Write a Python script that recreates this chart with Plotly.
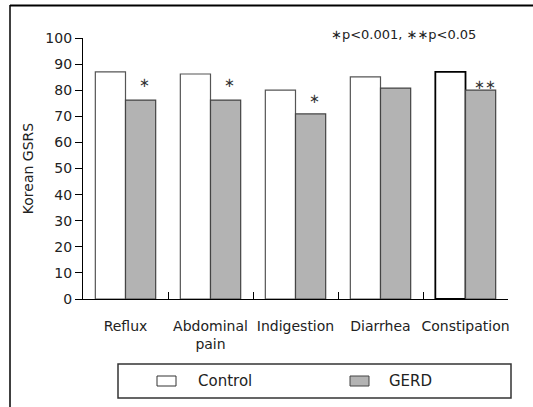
import plotly.graph_objects as go

categories = ["Reflux", "Abdominal<br>pain", "Indigestion", "Diarrhea", "Constipation"]
control = [87, 86.2, 80, 85.1, 87]
gerd = [76.2, 76.2, 70.9, 80.8, 80]
signif = ["∗", "∗", "∗", "", "∗∗"]
yticks = [0, 10, 20, 30, 40, 50, 60, 70, 80, 90, 100]

W, H = 533, 407
L, R, T, B = 83, 508, 38, 299  # plot area in pixels
FONT = "DejaVu Sans"

def px(x):
    return (x - L) / (R - L)

def py(y):
    return (B - y) / (B - T)

fig = go.Figure()
fig.add_trace(go.Bar(
    x=categories, y=control, name="Control",
    marker=dict(color="white", line=dict(color=["#555"] * 4 + ["#000"], width=[1.2] * 4 + [1.8])),
))
fig.add_trace(go.Bar(
    x=categories, y=gerd, name="GERD",
    marker=dict(color="#b3b3b3", line=dict(color="#444", width=1.2)),
))

yshifts = [18, 18, 15, 0, 6]
for c, g, s, ys in zip(categories, gerd, signif, yshifts):
    if s:
        fig.add_annotation(x=c, y=g, text=s, showarrow=False, xshift=19, yshift=ys,
                           yanchor="middle", font=dict(size=13, color="#333", family=FONT))

fig.add_annotation(xref="paper", yref="paper", x=px(403), y=py(34), text="∗p&lt;0.001, ∗∗p&lt;0.05",
                   showarrow=False, xanchor="center", yanchor="middle",
                   font=dict(size=13, color="#222", family=FONT))

# outer frame: left and top edges
fig.add_shape(type="line", xref="paper", yref="paper", x0=px(10), x1=px(10), y0=py(5), y1=py(420),
              line=dict(color="black", width=1.5))
fig.add_shape(type="line", xref="paper", yref="paper", x0=px(10), x1=px(545), y0=py(5.5), y1=py(5.5),
              line=dict(color="black", width=2))

# legend box
fig.add_shape(type="rect", xref="paper", yref="paper", x0=px(118), x1=px(511), y0=py(398), y1=py(364),
              line=dict(color="#333", width=1.5))
fig.add_shape(type="rect", xref="paper", yref="paper", x0=px(157), x1=px(176), y0=py(386), y1=py(376),
              line=dict(color="#333", width=1), fillcolor="white")
fig.add_shape(type="rect", xref="paper", yref="paper", x0=px(350), x1=px(369), y0=py(386), y1=py(376),
              line=dict(color="#444", width=1), fillcolor="#b3b3b3")
fig.add_annotation(xref="paper", yref="paper", x=px(196), y=py(381), text="Control", showarrow=False,
                   xanchor="left", yanchor="middle", font=dict(size=15, color="#222", family=FONT))
fig.add_annotation(xref="paper", yref="paper", x=px(387), y=py(381), text="GERD", showarrow=False,
                   xanchor="left", yanchor="middle", font=dict(size=15, color="#222", family=FONT))

fig.update_layout(
    width=W, height=H,
    margin=dict(l=L, r=W - R, t=T, b=H - B, autoexpand=False),
    paper_bgcolor="white", plot_bgcolor="white",
    barmode="group", bargap=0.29, bargroupgap=0,
    showlegend=False,
    font=dict(family=FONT, size=14, color="#222"),
)
fig.update_xaxes(
    showline=True, linecolor="black", linewidth=1.2, tickangle=0,
    ticks="inside", tickson="boundaries", ticklen=7, tickcolor="black", tickwidth=1.2,
    ticklabelstandoff=14, showgrid=False, automargin=False,
    tickfont=dict(size=14, family=FONT, color="#222"),
)
fig.update_yaxes(
    range=[0, 100], tickvals=yticks, showline=True, linecolor="black", linewidth=1.2,
    ticks="outside", ticklen=7, tickcolor="black", tickwidth=1.2, showgrid=False, zeroline=False,
    automargin=False, tickfont=dict(size=14, family=FONT, color="#222"),
    title=dict(text="Korean GSRS", font=dict(size=14, family=FONT, color="#222"), standoff=8),
)

fig.write_html(
    "out.html",
    config={"displayModeBar": False},
    post_script=(
        "document.documentElement.style.margin='0';document.documentElement.style.overflow='hidden';"
        "document.body.style.margin='0';document.body.style.overflow='hidden';"
    ),
)
